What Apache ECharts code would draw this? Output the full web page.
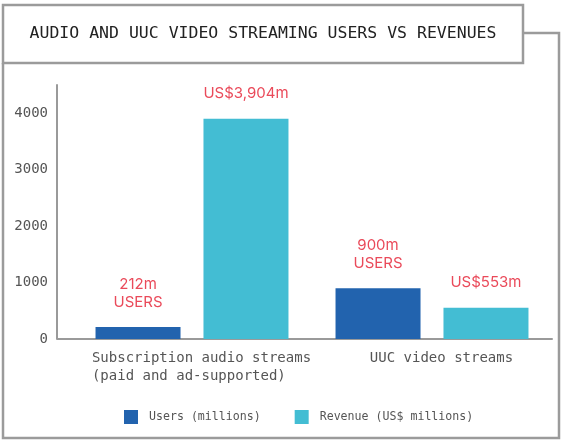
<!DOCTYPE html>
<html>
<head>
<meta charset="utf-8">
<script src="https://cdn.jsdelivr.net/npm/echarts@6/dist/echarts.min.js"></script>
<style>
  html, body { margin: 0; padding: 0; background: #fff; }
  #panel { width: 565px; height: 442px; }
</style>
</head>
<body>
<div id="panel"></div>
<script>
// data
var categories = ['Subscription audio streams\n(paid and ad-supported)   ', 'UUC video streams'];
var users = [212, 900];
var revenue = [3904, 553];
var yTicks = [0, 1000, 2000, 3000, 4000];

var MONO = '"DejaVu Sans Mono", "Liberation Mono", monospace';
var BORDER = '#9b9b9b';

chartDom = document.getElementById('panel');
myChart = echarts.init(chartDom);

/** 数据标签 */
var labelStyle = {
    show: true,
    position: 'top',
    distance: 16,
    color: '#ea4a5a',
    fontFamily: 'Inter, Roboto, sans-serif',
    fontSize: 15,
    lineHeight: 18
};

myChart.setOption({
    animation: false,
    grid: { left: 72, right: 13, top: 85, bottom: 103 },
    graphic: [
        // title box
        { type: 'rect', shape: { x: 3, y: 5, width: 520, height: 58 },
          style: { fill: 'none', stroke: BORDER, lineWidth: 2.5 } },
        { type: 'text', x: 263, y: 34,
          style: { text: 'AUDIO AND UUC VIDEO STREAMING USERS VS REVENUES', fill: '#222',
                   font: '16.5px ' + MONO, align: 'center', verticalAlign: 'middle' } },
        // outer frame
        { type: 'polyline', shape: { points: [[523, 33], [559, 33], [559, 438], [3, 438], [3, 63]] },
          style: { fill: 'none', stroke: BORDER, lineWidth: 2.5 } },
        // x axis joins y axis
        { type: 'line', shape: { x1: 57, y1: 339, x2: 73, y2: 339 },
          style: { stroke: '#9a9a9a', lineWidth: 2 } }
    ],
    legend: {
        top: 410,
        left: 124,
        padding: 0,
        icon: 'rect',
        itemWidth: 14,
        itemHeight: 14,
        itemGap: 34,
        textStyle: { color: '#555', fontFamily: MONO, fontSize: 11.6, padding: [0, 0, 0, 6] },
        data: ['Users (millions)', 'Revenue (US$ millions)']
    },
    xAxis: {
        type: 'category',
        data: categories,
        axisLine: { lineStyle: { color: '#9a9a9a', width: 2 } },
        axisTick: { show: false },
        axisLabel: {
            interval: 0,
            color: '#555', fontFamily: MONO, fontSize: 14, lineHeight: 18, margin: 10,
            padding: [0, 0, 0, 19]
        }
    },
    yAxis: {
        type: 'value',
        min: 0,
        max: 4500,
        interval: 1000,
        offset: 15,
        axisLine: { show: true, lineStyle: { color: '#9a9a9a', width: 2 } },
        axisTick: { show: false },
        splitLine: { show: false },
        axisLabel: {
            color: '#555', fontFamily: MONO, fontSize: 14, margin: 9,
            showMaxLabel: false,
            formatter: function (v) { return yTicks.indexOf(v) >= 0 ? String(v) : ''; }
        }
    },
    series: [
        {
            name: 'Users (millions)',
            type: 'bar',
            data: users,
            barWidth: 85,
            barGap: '27%',
            itemStyle: { color: '#2263ae' },
            label: Object.assign({}, labelStyle, {
                formatter: function (p) { return p.value + 'm\nUSERS'; }
            })
        },
        {
            name: 'Revenue (US$ millions)',
            type: 'bar',
            data: revenue,
            barWidth: 85,
            itemStyle: { color: '#43bdd3' },
            label: Object.assign({}, labelStyle, {
                formatter: function (p) { return 'US$' + p.value.toLocaleString('en-US') + 'm'; }
            })
        }
    ]
});
</script>
</body>
</html>
